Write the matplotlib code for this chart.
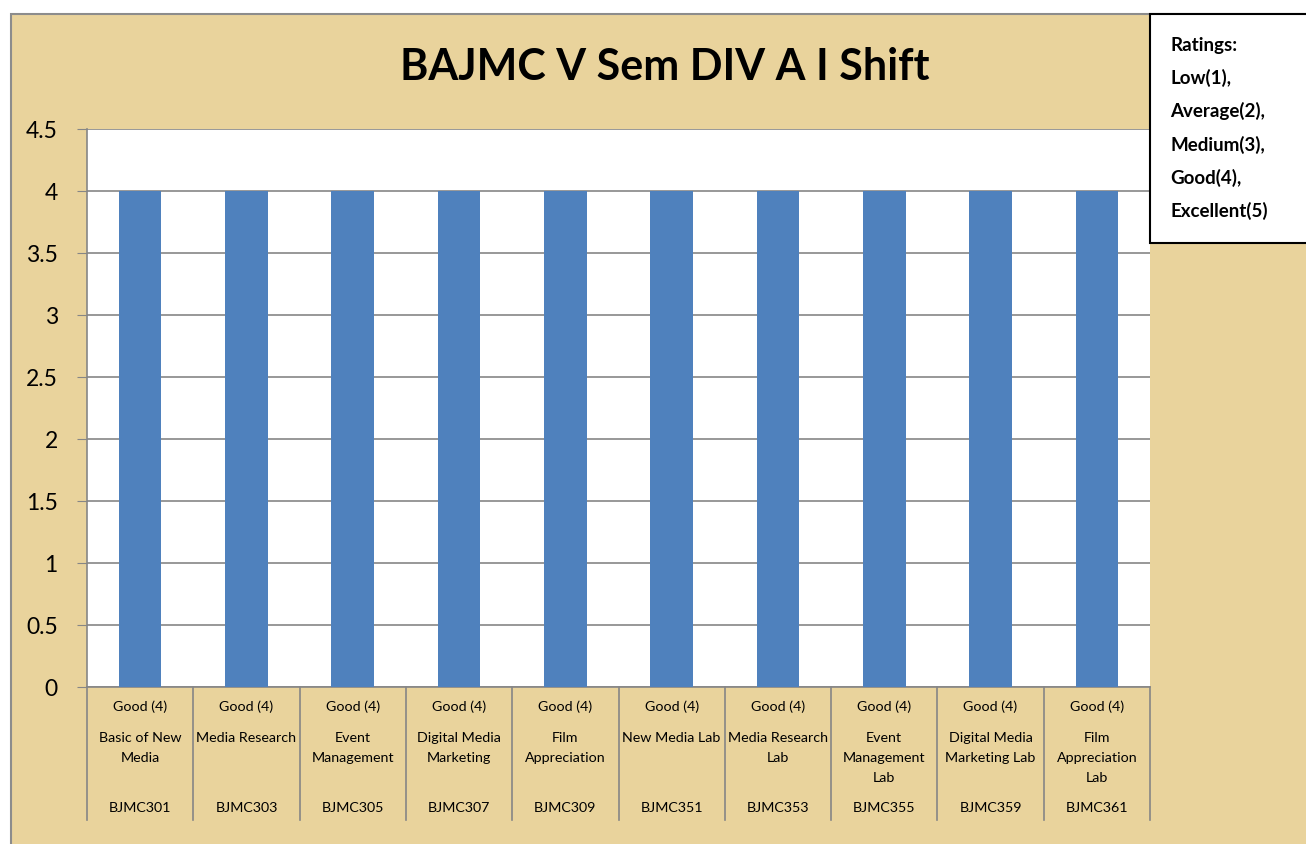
import matplotlib
matplotlib.use('Agg')
import matplotlib.pyplot as plt
from matplotlib.patches import Rectangle

codes = ["BJMC301", "BJMC303", "BJMC305", "BJMC307", "BJMC309",
         "BJMC351", "BJMC353", "BJMC355", "BJMC359", "BJMC361"]
subjects = ["Basic of New\nMedia", "Media Research", "Event\nManagement",
            "Digital Media\nMarketing", "Film\nAppreciation", "New Media Lab",
            "Media Research\nLab", "Event\nManagement\nLab",
            "Digital Media\nMarketing Lab", "Film\nAppreciation\nLab"]
ratings = ["Good (4)"] * 10
scores = [4, 4, 4, 4, 4, 4, 4, 4, 4, 4]
legend_lines = ["Ratings:", "Low(1),", "Average(2),", "Medium(3),",
                "Good(4),", "Excellent(5)"]

plt.rcParams['font.family'] = ['Lato', 'DejaVu Sans']

W, H = 1306, 844
fig = plt.figure(figsize=(W / 100, H / 100), dpi=100)
fig.patch.set_facecolor('white')

# parchment chart area
fig.patches.append(Rectangle((11 / W, -0.01), 1.0, 1 - 14 / H + 0.01,
                             transform=fig.transFigure, facecolor='#E9D39C',
                             edgecolor='#8C8C8C', linewidth=1.5, zorder=-1))

ax = fig.add_axes([87 / W, 1 - 687 / H, (1150 - 87) / W, (687 - 129) / H])
ax.set_zorder(1)
ax.set_facecolor('white')
x = list(range(len(codes)))
ax.bar(x, scores, width=0.4, color='#4F81BD', zorder=3)
ax.set_xlim(-0.5, len(codes) - 0.5)
ax.set_ylim(0, 4.5)
ax.set_yticks([0, 0.5, 1, 1.5, 2, 2.5, 3, 3.5, 4, 4.5])
ax.set_yticklabels(["0", "0.5", "1", "1.5", "2", "2.5", "3", "3.5", "4", "4.5"],
                   fontsize=16.5)
ax.tick_params(axis='y', length=7, color='#868686', pad=14)
ax.set_xticks([])
ax.yaxis.grid(True, color='#868686', linewidth=1.2, zorder=0)
for side in ['top', 'right']:
    ax.spines[side].set_visible(False)
ax.spines['left'].set_color('#868686')
ax.spines['bottom'].set_color('#868686')
ax.spines['left'].set_linewidth(1.2)
ax.spines['bottom'].set_linewidth(1.2)

# multi-level category labels
trans = ax.get_xaxis_transform()
ph = 687 - 129
for i in range(len(codes)):
    ax.text(i, -20 / ph, ratings[i], transform=trans, ha='center', va='center',
            fontsize=10.3)
    ax.text(i, -(732 - 687) / ph, subjects[i], transform=trans, ha='center',
            va='top', fontsize=10.3, linespacing=1.8)
    ax.text(i, -(808 - 687) / ph, codes[i], transform=trans, ha='center',
            va='center', fontsize=10.3)
for b in range(len(codes) + 1):
    ax.plot([b - 0.5, b - 0.5], [0, -(820 - 687) / ph], transform=trans,
            color='#868686', linewidth=1.2, clip_on=False)

fig.text(665 / W, 1 - 67 / H, "BAJMC V Sem DIV A I Shift", ha='center',
         va='center', fontsize=31, fontweight='bold')

# ratings box
box = Rectangle((1150 / W, 1 - 243 / H), 0.2, (243 - 14) / H,
                transform=fig.transFigure, facecolor='white',
                edgecolor='black', linewidth=1.5, zorder=5)
fig.patches.append(box)
for k, line in enumerate(legend_lines):
    fig.text(1170 / W, 1 - (45 + k * 33.2) / H, line, ha='left', va='center',
             fontsize=13.5, fontweight='bold', zorder=6)

fig.savefig('out.png', dpi=100)
